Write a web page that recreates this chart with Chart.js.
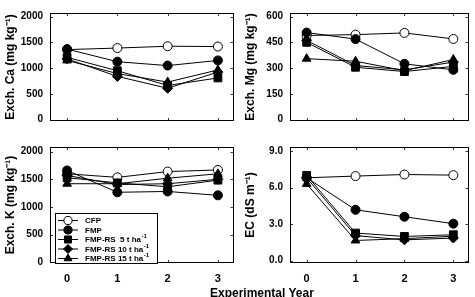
<!DOCTYPE html>
<html>
<head>
<meta charset="utf-8">
<script src="https://cdn.jsdelivr.net/npm/chart.js@4/dist/chart.umd.min.js"></script>
<style>
  body { margin: 0; background: #fff; }
  #wrap { position: relative; width: 475px; height: 297px; overflow: hidden; background: #fff; }
  canvas { position: absolute; }
  #xtitle { position: absolute; left: 210px; top: 287px; font: bold 12px "Liberation Sans", Arial, sans-serif; line-height: 12px; color: #000; white-space: nowrap; }
</style>
</head>
<body>
<div id="wrap">
  <canvas id="ca" width="240" height="134" style="left:0;top:0"></canvas>
  <canvas id="mg" width="235" height="134" style="left:240px;top:0"></canvas>
  <canvas id="k" width="240" height="163" style="left:0;top:134px"></canvas>
  <canvas id="ec" width="235" height="163" style="left:240px;top:134px"></canvas>
  <div id="xtitle">Experimental Year</div>
</div>
<script>
// data
const years = [0, 1, 2, 3];
const seriesNames = ['CFP', 'FMP', 'FMP-RS  5 t ha', 'FMP-RS 10 t ha', 'FMP-RS 15 t ha'];

const caCFP = [1360, 1390, 1425, 1420];
const caFMP = [1370, 1125, 1050, 1150];
const caRS5 = [1210, 950, 665, 810];
const caRS10 = [1180, 840, 610, 925];
const caRS15 = [1150, 895, 730, 965];

const mgCFP = [490, 495, 505, 470];
const mgFMP = [507, 469, 325, 290];
const mgRS5 = [450, 305, 280, 310];
const mgRS10 = [462, 315, 290, 335];
const mgRS15 = [355, 340, 285, 350];

const kCFP = [1600, 1535, 1640, 1670];
const kFMP = [1660, 1265, 1280, 1210];
const kRS5 = [1530, 1435, 1365, 1485];
const kRS10 = [1570, 1405, 1420, 1500];
const kRS15 = [1420, 1420, 1520, 1600];

const ecCFP = [6.8, 6.94, 7.07, 7.02];
const ecFMP = [6.8, 4.17, 3.6, 3.03];
const ecRS5 = [7.0, 2.26, 1.98, 2.12];
const ecRS10 = [6.8, 2.05, 1.7, 1.85];
const ecRS15 = [6.3, 1.65, 1.8, 2.0];

const caTicks = [0, 500, 1000, 1500, 2000];
const mgTicks = [0, 150, 300, 450, 600];
const kTicks = [0, 500, 1000, 1500, 2000];
const ecTicks = [0, 3, 6, 9];

const FONT = '"Liberation Sans", Arial, sans-serif';

const markers = [
  { style: 'circle', radius: 4.5, fill: '#fff' },
  { style: 'circle', radius: 4.5, fill: '#000' },
  { style: 'rect', radius: 5.5, fill: '#000' },
  { style: 'rectRot', radius: 5, fill: '#000' },
  { style: 'triangle', radius: 5, fill: '#000' }
];

function makeDatasets(lists) {
  return lists.map((vals, i) => ({
    label: seriesNames[i],
    data: years.map((x, j) => ({ x: x, y: vals[j] })),
    borderColor: '#000',
    borderWidth: 1,
    pointStyle: markers[i].style,
    pointRadius: markers[i].radius,
    pointBackgroundColor: markers[i].fill,
    pointBorderColor: '#000',
    pointBorderWidth: 1,
    order: 5 - i,
    tension: 0
  }));
}

// box round the plot with small inward tick marks
const framePlugin = {
  id: 'frame',
  beforeDatasetsDraw(chart) {
    const a = chart.chartArea;
    const ctx = chart.ctx;
    const xs = chart.scales.x, ys = chart.scales.y;
    ctx.save();
    ctx.strokeStyle = '#000';
    ctx.lineWidth = 1;
    ctx.strokeRect(Math.round(a.left) + 0.5, Math.round(a.top) + 0.5,
      Math.round(a.right - a.left) - 1, Math.round(a.bottom - a.top) - 1);
    ctx.lineWidth = 0.8;
    ctx.beginPath();
    years.forEach(v => {
      const px = Math.round(xs.getPixelForValue(v)) + 0.5;
      ctx.moveTo(px, a.bottom); ctx.lineTo(px, a.bottom - 3);
      ctx.moveTo(px, a.top); ctx.lineTo(px, a.top + 3);
    });
    ys.ticks.forEach(t => {
      const py = Math.round(ys.getPixelForValue(t.value)) + 0.5;
      ctx.moveTo(a.left, py); ctx.lineTo(a.left + 3, py);
      ctx.moveTo(a.right, py); ctx.lineTo(a.right - 3, py);
    });
    ctx.stroke();
    ctx.restore();
  }
};

// legend inside the K panel
const legendPlugin = {
  id: 'boxLegend',
  afterDatasetsDraw(chart, args, opts) {
    if (!opts.show) return;
    const a = chart.chartArea;
    const ctx = chart.ctx;
    const bx = a.left + 5, by = a.top + 66, bw = 102, bh = 50;
    ctx.save();
    ctx.fillStyle = '#fff';
    ctx.fillRect(bx, by, bw, bh);
    ctx.strokeStyle = '#000';
    ctx.lineWidth = 1;
    ctx.strokeRect(bx + 0.5, by + 0.5, bw, bh);
    seriesNames.forEach((name, i) => {
      const y = by + 7.5 + i * 9.5;
      ctx.beginPath();
      ctx.moveTo(bx + 3, y); ctx.lineTo(bx + 23, y);
      ctx.stroke();
      const m = markers[i];
      ctx.fillStyle = m.fill;
      Chart.helpers.drawPoint(ctx, { pointStyle: m.style, radius: m.radius * 0.9, borderWidth: 1 }, bx + 13, y);
      ctx.fillStyle = '#000';
      ctx.font = 'bold 8px ' + FONT;
      ctx.textBaseline = 'middle';
      ctx.fillText(name, bx + 30, y + 0.5);
      if (i >= 2) {
        const w = ctx.measureText(name).width;
        ctx.font = 'bold 6px ' + FONT;
        ctx.fillText('-1', bx + 30 + w + 0.5, y - 3);
      }
    });
    ctx.restore();
  }
};

function makeChart(id, lists, yMin, yMax, yTicks, yTitle, opt) {
  const ctx = document.getElementById(id);
  return new Chart(ctx, {
    type: 'line',
    data: { datasets: makeDatasets(lists) },
    options: {
      responsive: false,
      animation: false,
      devicePixelRatio: 1,
      layout: { padding: { top: opt.top, right: opt.right, bottom: opt.bottom, left: 0 } },
      plugins: {
        legend: { display: false },
        tooltip: { enabled: false },
        boxLegend: { show: !!opt.legend }
      },
      scales: {
        x: {
          type: 'linear',
          min: -0.34,
          max: 3.31,
          display: opt.xLabels,
          grid: { display: false, drawTicks: false },
          border: { display: false },
          afterBuildTicks: s => { s.ticks = years.map(v => ({ value: v })); },
          afterFit: s => { s.height = opt.xHeight || 0; },
          ticks: { color: '#000', padding: 9, font: { family: FONT, size: 11, weight: 'bold' } }
        },
        y: {
          min: yMin,
          max: yMax,
          grid: { display: false, drawTicks: false },
          border: { display: false },
          afterBuildTicks: s => { s.ticks = yTicks.map(v => ({ value: v })); },
          afterFit: s => { s.width = 50; },
          ticks: {
            color: '#000',
            padding: 7,
            font: { family: FONT, size: 10, weight: 'bold' },
            callback: v => opt.fixed ? v.toFixed(1) : String(v)
          },
          title: {
            display: true,
            text: yTitle,
            color: '#000',
            padding: { top: 3, bottom: 0 },
            font: { family: FONT, size: 12, weight: 'bold' }
          }
        }
      }
    },
    plugins: [framePlugin, legendPlugin]
  });
}

makeChart('ca', [caCFP, caFMP, caRS5, caRS10, caRS15], -25, 2070, caTicks,
  'Exch. Ca (mg kg\u207B\u00B9)', { top: 6, right: 5, bottom: 5, xLabels: false });
makeChart('mg', [mgCFP, mgFMP, mgRS5, mgRS10, mgRS15], -8, 621, mgTicks,
  'Exch. Mg (mg kg\u207B\u00B9)', { top: 6, right: 1, bottom: 5, xLabels: false });
makeChart('k', [kCFP, kFMP, kRS5, kRS10, kRS15], -15, 2085, kTicks,
  'Exch. K (mg kg\u207B\u00B9)', { top: 5, right: 5, bottom: 0, xLabels: true, xHeight: 34, legend: true });
makeChart('ec', [ecCFP, ecFMP, ecRS5, ecRS10, ecRS15], -0.2, 9.33, ecTicks,
  'EC (dS m\u207B\u00B9)', { top: 5, right: 1, bottom: 0, xLabels: true, xHeight: 34, fixed: true });
</script>
</body>
</html>
